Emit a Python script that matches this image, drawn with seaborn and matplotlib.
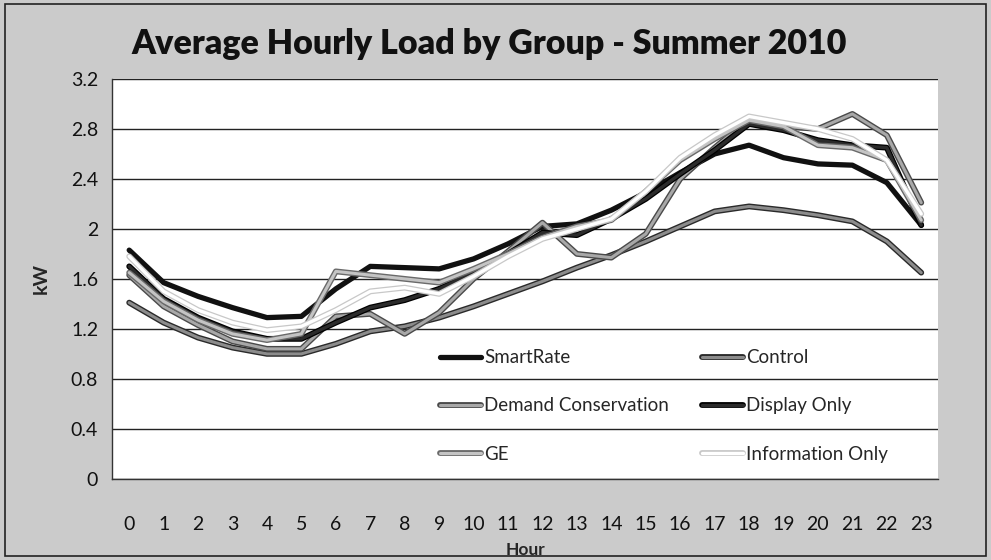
import numpy as np
import pandas as pd
import seaborn as sns
import matplotlib.pyplot as plt
import matplotlib.patheffects as pe
from matplotlib.lines import Line2D
from matplotlib.patches import Rectangle

# Average hourly load (kW) per group
hours = list(range(24))
smartrate = [1.83, 1.57, 1.46, 1.37, 1.29, 1.30, 1.52, 1.70, 1.69, 1.68, 1.76, 1.88,
             2.02, 2.04, 2.15, 2.29, 2.45, 2.60, 2.67, 2.57, 2.52, 2.51, 2.37, 2.03]
control = [1.41, 1.25, 1.13, 1.05, 1.00, 1.00, 1.08, 1.18, 1.22, 1.29, 1.38, 1.48,
           1.58, 1.69, 1.79, 1.90, 2.02, 2.14, 2.18, 2.15, 2.11, 2.06, 1.90, 1.65]
demand_conservation = [1.63, 1.38, 1.23, 1.10, 1.04, 1.04, 1.30, 1.32, 1.16, 1.33, 1.60, 1.82,
                       2.05, 1.80, 1.77, 1.96, 2.40, 2.65, 2.88, 2.82, 2.80, 2.92, 2.75, 2.21]
display_only = [1.70, 1.44, 1.29, 1.18, 1.12, 1.12, 1.25, 1.37, 1.43, 1.52, 1.65, 1.80,
                1.97, 1.95, 2.08, 2.24, 2.44, 2.63, 2.84, 2.79, 2.71, 2.67, 2.65, 2.03]
ge = [1.65, 1.42, 1.27, 1.16, 1.11, 1.16, 1.66, 1.63, 1.60, 1.57, 1.68, 1.80,
      1.93, 2.02, 2.07, 2.30, 2.55, 2.72, 2.87, 2.82, 2.67, 2.65, 2.55, 2.07]
info_only = [1.78, 1.50, 1.35, 1.25, 1.19, 1.22, 1.35, 1.50, 1.53, 1.48, 1.62, 1.78,
             1.92, 2.00, 2.08, 2.30, 2.57, 2.75, 2.90, 2.85, 2.80, 2.72, 2.55, 2.12]

yticks = [0, 0.4, 0.8, 1.2, 1.6, 2, 2.4, 2.8, 3.2]
ytick_labels = ['0', '0.4', '0.8', '1.2', '1.6', '2', '2.4', '2.8', '3.2']

series = {
    'SmartRate': smartrate,
    'Control': control,
    'Demand Conservation': demand_conservation,
    'Display Only': display_only,
    'GE': ge,
    'Information Only': info_only,
}

# line look per group: (colour, width, outline colour, outline width)
styles = {
    'SmartRate': ('#111111', 3.8, None, 0),
    'Control': ('#8c8c8c', 2.2, '#2a2a2a', 4.2),
    'Demand Conservation': ('#a8a8a8', 2.2, '#4a4a4a', 4.2),
    'Display Only': ('#2b2b2b', 2.4, '#000000', 4.2),
    'GE': ('#c4c4c4', 2.2, '#6a6a6a', 4.2),
    'Information Only': ('#ffffff', 2.4, '#c8c8c8', 4.2),
}

df = pd.DataFrame({'Hour': hours, **series})

sns.set_style('white')
plt.rcParams['font.family'] = ['Lato', 'DejaVu Sans']

fig = plt.figure(figsize=(9.91, 5.6), dpi=100)
fig.patch.set_facecolor('#cbcbcb')
ax = fig.add_axes([0.113, 0.145, 0.834, 0.714])
ax.set_facecolor('white')

for name in series:
    color, lw, edge, elw = styles[name]
    effects = [pe.Stroke(linewidth=elw, foreground=edge), pe.Normal()] if edge else None
    sns.lineplot(data=df, x='Hour', y=name, ax=ax, color=color, linewidth=lw,
                 path_effects=effects, legend=False, zorder=3)

ax.set_xlim(-0.5, 23.5)
ax.set_ylim(0, 3.2)
ax.set_yticks(yticks)
ax.set_yticklabels(ytick_labels)
ax.set_xticks(hours)
ax.set_xticklabels([str(h) for h in hours])
ax.set_xticks(np.arange(-0.5, 24, 1), minor=True)
ax.tick_params(axis='x', which='major', length=0, pad=27, labelsize=14, colors='#111111')
ax.tick_params(axis='x', which='minor', length=5, width=1, direction='out', color='#333333')
ax.tick_params(axis='y', which='major', length=5, width=1, direction='out', color='#333333',
               labelsize=14, labelcolor='#111111', pad=5)
ax.yaxis.grid(True, color='#222222', linewidth=1.0, zorder=0)
ax.set_axisbelow(True)
for side in ['top', 'right']:
    ax.spines[side].set_visible(False)
for side in ['left', 'bottom']:
    ax.spines[side].set_color('#333333')
    ax.spines[side].set_linewidth(1.0)

ax.set_xlabel('Hour', fontsize=12.5, fontweight='bold')
ax.xaxis.set_label_coords(0.5, -0.1775)
ax.xaxis.label.set_va('center')
ax.set_ylabel('kW', fontsize=14, fontweight='bold', labelpad=15)
fig.text(0.494, 0.95, 'Average Hourly Load by Group - Summer 2010', fontsize=24.5,
         fontweight='heavy', ha='center', va='top', color='#111111')

# legend in Excel order, filled column-wise for ncol=2
order = ['SmartRate', 'Demand Conservation', 'GE', 'Control', 'Display Only', 'Information Only']
handles = []
for name in order:
    color, lw, edge, elw = styles[name]
    effects = [pe.Stroke(linewidth=elw, foreground=edge), pe.Normal()] if edge else None
    handles.append(Line2D([0], [0], color=color, linewidth=lw, path_effects=effects))
ax.legend(handles, order, ncol=2, loc='upper left', bbox_to_anchor=(0.388, 0.3425),
          frameon=False, fontsize=13.5, handlelength=2.2, handletextpad=0.15,
          labelspacing=1.66, columnspacing=1.75, borderaxespad=0)

fig.add_artist(Rectangle((0.005, 0.008), 0.99, 0.984, transform=fig.transFigure,
                         fill=False, edgecolor='#222222', linewidth=1.2))

fig.savefig('out.png', dpi=100, facecolor=fig.get_facecolor())
